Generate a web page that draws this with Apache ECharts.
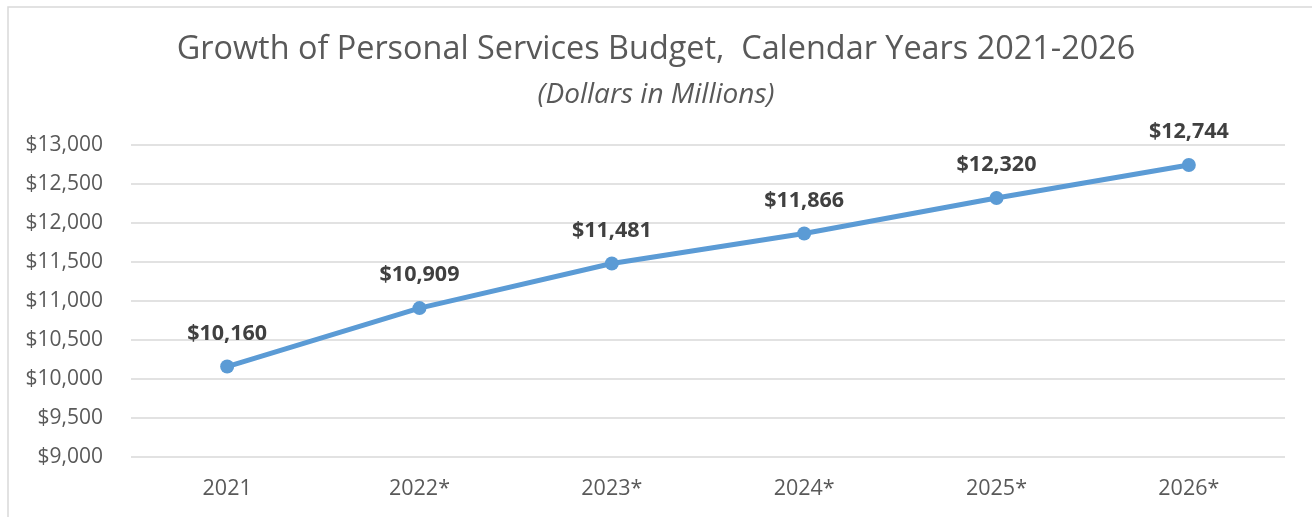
<!DOCTYPE html>
<html><head><meta charset="utf-8">
<script src="https://cdn.jsdelivr.net/npm/echarts@6/dist/echarts.min.js"></script>
<style>html,body{margin:0;padding:0;background:#fff}#c{width:1312px;height:517px}</style>
</head><body><div id="c"></div>
<script>
const categories = ['2021','2022*','2023*','2024*','2025*','2026*'];
const values = [10160, 10909, 11481, 11866, 12320, 12744];
const yTicks = {min: 9000, max: 13000, interval: 500};
const FONT = 'Open Sans';
const chart = echarts.init(document.getElementById('c'));
chart.setOption({
  animation: false,
  backgroundColor: '#fff',
  graphic: [{type:'rect', shape:{x:8,y:7,width:1320,height:530}, style:{fill:'none', stroke:'#d9d9d9', lineWidth:1.5}, z:-1}],
  title: [{
    text: 'Growth of Personal Services Budget,  Calendar Years 2021-2026',
    left: 'center', top: 29,
    textStyle: {fontFamily: FONT, fontSize: 32.4, fontWeight: 'normal', color: '#595959'}
  },{
    text: '(Dollars in Millions)',
    left: 'center', top: 76,
    textStyle: {fontFamily: FONT, fontSize: 28, fontWeight: 'normal', fontStyle: 'italic', color: '#595959'}
  }],
  grid: {left: 131, right: 27, top: 145, bottom: 60},
  xAxis: {
    type: 'category', data: categories, boundaryGap: true,
    axisLine: {show: false}, axisTick: {show: false},
    axisLabel: {fontFamily: FONT, fontSize: 21.5, color: '#595959', margin: 21}
  },
  yAxis: {
    type: 'value', min: yTicks.min, max: yTicks.max, interval: yTicks.interval,
    axisLine: {show: false}, axisTick: {show: false},
    splitLine: {lineStyle: {color: '#d9d9d9', width: 1.5}},
    axisLabel: {fontFamily: FONT, fontSize: 21, color: '#595959', margin: 28,
      formatter: v => '$' + v.toLocaleString('en-US')}
  },
  series: [{
    type: 'line', data: values,
    lineStyle: {color: '#5B9BD5', width: 5},
    itemStyle: {color: '#5B9BD5'},
    symbol: 'circle', symbolSize: 14,
    label: {show: true, position: 'top', distance: 15,
      fontFamily: FONT, fontSize: 21.5, fontWeight: 'bold', color: '#404040',
      formatter: p => '$' + p.value.toLocaleString('en-US')}
  }]
});
</script></body></html>
